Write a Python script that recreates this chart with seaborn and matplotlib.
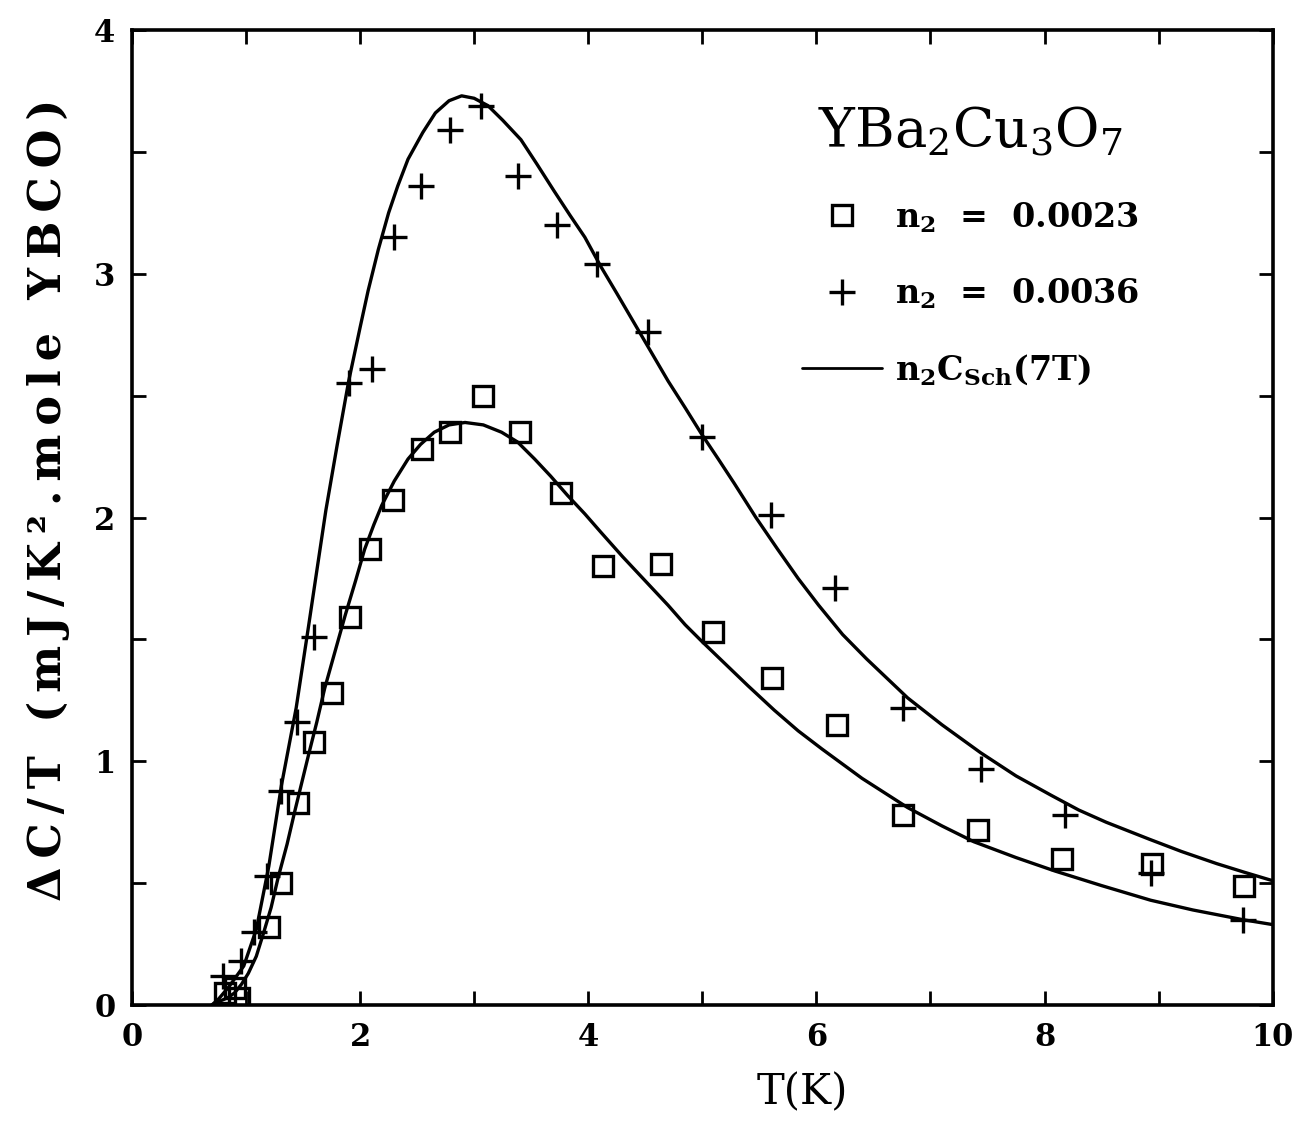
import numpy as np
import pandas as pd
import matplotlib
matplotlib.use("Agg")
import matplotlib.pyplot as plt
import seaborn as sns
from matplotlib.lines import Line2D
from matplotlib.ticker import MultipleLocator

# measured points, n2 = 0.0023 (squares)
t_sq = [0.82, 0.90, 0.94, 1.20, 1.31, 1.46, 1.60, 1.75, 1.91, 2.09, 2.29, 2.54, 2.79,
        3.08, 3.40, 3.76, 4.13, 4.64, 5.09, 5.61, 6.18, 6.76, 7.42, 8.15, 8.94, 9.75]
c_sq = [0.05, 0.07, 0.03, 0.32, 0.50, 0.83, 1.08, 1.28, 1.59, 1.87, 2.07, 2.28, 2.35,
        2.50, 2.35, 2.10, 1.80, 1.81, 1.53, 1.34, 1.15, 0.78, 0.72, 0.60, 0.58, 0.49]

# measured points, n2 = 0.0036 (pluses)
t_pl = [0.80, 0.96, 1.07, 1.18, 1.31, 1.45, 1.60, 1.90, 2.10, 2.30, 2.53, 2.79, 3.06,
        3.38, 3.73, 4.08, 4.52, 5.00, 5.60, 6.16, 6.76, 7.44, 8.18, 8.93, 9.74]
c_pl = [0.12, 0.18, 0.30, 0.53, 0.88, 1.16, 1.51, 2.55, 2.61, 3.15, 3.36, 3.59, 3.69,
        3.40, 3.20, 3.04, 2.76, 2.33, 2.01, 1.71, 1.22, 0.97, 0.78, 0.54, 0.35]

# n2*C_Sch(7T) curves
t_lo = [0.70, 0.76, 0.84, 0.90, 0.96, 1.02, 1.09, 1.15, 1.22, 1.28, 1.36, 1.43, 1.55,
        1.62, 1.69, 1.78, 1.87, 1.96, 2.04, 2.12, 2.19, 2.30, 2.42, 2.53, 2.65, 2.78,
        2.92, 3.08, 3.24, 3.38, 3.53, 3.67, 3.82, 3.97, 4.11, 4.30, 4.50, 4.70, 4.85,
        5.00, 5.20, 5.40, 5.63, 5.84, 6.05, 6.40, 6.80, 7.10, 7.38, 7.75, 8.09, 8.50,
        8.93, 9.30, 9.74, 10.0]
c_lo = [0.00, 0.014, 0.03, 0.05, 0.085, 0.13, 0.20, 0.29, 0.40, 0.52, 0.66, 0.80, 1.03,
        1.16, 1.30, 1.45, 1.60, 1.74, 1.87, 1.97, 2.05, 2.15, 2.24, 2.30, 2.35, 2.38,
        2.39, 2.38, 2.35, 2.31, 2.24, 2.17, 2.09, 2.015, 1.94, 1.84, 1.74, 1.64, 1.56,
        1.49, 1.40, 1.31, 1.21, 1.125, 1.05, 0.93, 0.81, 0.735, 0.67, 0.605, 0.55, 0.49,
        0.43, 0.39, 0.35, 0.33]

t_hi = [0.70, 0.76, 0.85, 0.98, 1.09, 1.20, 1.31, 1.44, 1.55, 1.62, 1.70, 1.80, 1.90,
        2.00, 2.07, 2.16, 2.25, 2.33, 2.42, 2.55, 2.66, 2.78, 2.89, 3.00, 3.12, 3.25,
        3.41, 3.55, 3.70, 3.84, 3.97, 4.11, 4.25, 4.40, 4.55, 4.70, 4.85, 4.99, 5.14,
        5.28, 5.47, 5.66, 5.84, 6.02, 6.23, 6.44, 6.62, 6.80, 7.10, 7.44, 7.75, 8.06,
        8.30, 8.54, 8.92, 9.20, 9.51, 9.75, 10.0]
c_hi = [0.00, 0.025, 0.075, 0.16, 0.31, 0.57, 0.90, 1.22, 1.56, 1.78, 2.03, 2.30, 2.56,
        2.78, 2.93, 3.10, 3.25, 3.36, 3.47, 3.58, 3.66, 3.71, 3.73, 3.72, 3.69, 3.63,
        3.55, 3.45, 3.34, 3.24, 3.15, 3.03, 2.92, 2.80, 2.68, 2.56, 2.45, 2.345, 2.24,
        2.14, 2.00, 1.87, 1.75, 1.64, 1.52, 1.42, 1.34, 1.26, 1.15, 1.035, 0.94, 0.86,
        0.80, 0.75, 0.68, 0.63, 0.58, 0.545, 0.51]

sns.set_style("ticks")
plt.rcParams['font.family'] = ['DejaVu Serif']
plt.rcParams['mathtext.fontset'] = 'dejavuserif'
for key in ['text.color', 'axes.labelcolor', 'xtick.color', 'ytick.color', 'axes.edgecolor']:
    plt.rcParams[key] = 'black'

fig = plt.figure(figsize=(13, 11.29), dpi=100)
ax = fig.add_axes([0.1015, 0.1098, 0.8775, 0.8636])

lw = 2.4
sns.lineplot(x=t_lo, y=c_lo, ax=ax, color='black', lw=lw, sort=False)
sns.lineplot(x=t_hi, y=c_hi, ax=ax, color='black', lw=lw, sort=False)
ax.plot(t_sq, c_sq, ls='none', marker='s', ms=14, mfc='none', mec='black', mew=2.4)
ax.plot(t_pl, c_pl, ls='none', marker='+', ms=19, mec='black', mew=2.4)

ax.set_xlim(0, 10)
ax.set_ylim(0, 4)
ax.xaxis.set_major_locator(MultipleLocator(2))
ax.xaxis.set_minor_locator(MultipleLocator(1))
ax.yaxis.set_major_locator(MultipleLocator(1))
ax.yaxis.set_minor_locator(MultipleLocator(0.5))
ax.tick_params(which='both', direction='in', top=True, right=True,
               length=10, width=2, labelsize=22, pad=12)
for s in ax.spines.values():
    s.set_linewidth(2.6)
for lab in ax.get_xticklabels() + ax.get_yticklabels():
    lab.set_fontweight('bold')

ax.set_xlabel("T(K)", fontsize=30, fontweight='normal')
ax.xaxis.set_label_coords(0.588, -0.068)
# the original label is letter-spaced: thin spaces between the characters
ylab = "\u2009".join("ΔC/T (mJ/K².mole YBCO)")
ax.set_ylabel(ylab, fontsize=32, fontweight='bold')
ax.yaxis.set_label_coords(-0.054, 0.518)

handles = [
    Line2D([], [], ls='none', marker='s', ms=14, mfc='none', mec='black', mew=2.4),
    Line2D([], [], ls='none', marker='+', ms=19, mec='black', mew=2.4),
    Line2D([], [], color='black', lw=2.0),
]
labels = [r"$\mathbf{n_2}$  =  0.0023", r"$\mathbf{n_2}$  =  0.0036",
          r"$\mathbf{n_2C_{Sch}(7T)}$"]
leg = ax.legend(handles, labels, loc='upper right', bbox_to_anchor=(0.895, 0.937),
                frameon=False, fontsize=24, handlelength=2.4, handletextpad=0.4,
                labelspacing=1.25, numpoints=1, borderaxespad=0,
                title=r"$\mathrm{YBa_2Cu_3O_7}$",
                title_fontproperties={'size': 39, 'weight': 'normal'})
for txt in leg.get_texts():
    txt.set_fontweight('bold')

fig.savefig("out.png", dpi=100)
